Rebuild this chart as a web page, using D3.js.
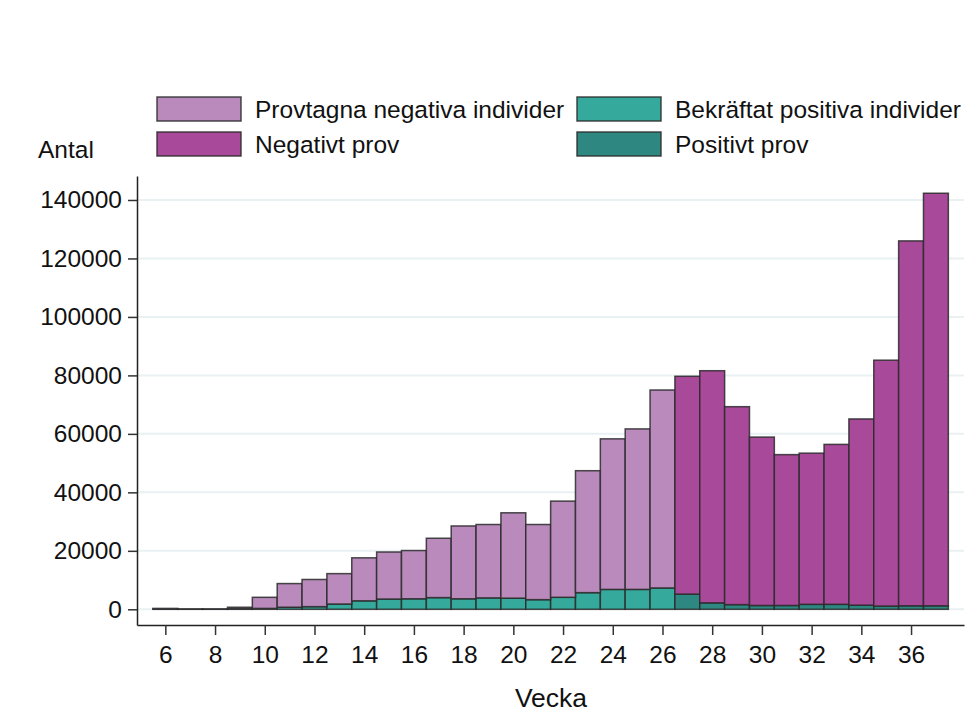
<!DOCTYPE html>
<html>
<head>
<meta charset="utf-8">
<script src="https://cdn.jsdelivr.net/npm/d3@7"></script>
<style>
  html, body { margin: 0; padding: 0; background: #ffffff; }
  svg { display: block; font-family: "Liberation Sans", Arial, sans-serif; }
</style>
</head>
<body>
<svg id="chart" width="976" height="720"></svg>
<script>
// ---- Data ----
const weeksIndivid = [6,7,8,9,10,11,12,13,14,15,16,17,18,19,20,21,22,23,24,25,26];
const negIndivid   = [200,50,50,500,3800,8100,9300,10400,14700,16100,16500,20300,24900,25100,29200,25700,32900,41700,51500,54900,67700];
const posIndivid   = [100,50,50,200,300,700,900,1800,2900,3500,3600,4000,3600,3900,3800,3300,4100,5700,6800,6800,7300];

const weeksProv = [27,28,29,30,31,32,33,34,35,36,37];
const negProv   = [74500,79400,67700,57600,51600,51700,54700,63700,84100,124800,141100];
const posProv   = [5200,2200,1600,1300,1300,1700,1700,1400,1100,1200,1200];

const xTicks = [6,8,10,12,14,16,18,20,22,24,26,28,30,32,34,36];
const yTicks = [0,20000,40000,60000,80000,100000,120000,140000];

const legendItems = [
  {label: "Provtagna negativa individer", key: "negInd"},
  {label: "Bekräftat positiva individer", key: "posInd"},
  {label: "Negativt prov", key: "negProv"},
  {label: "Positivt prov", key: "posProv"}
];
const colors = {
  negInd: "#b98abb",
  posInd: "#35a99b",
  negProv: "#a8499a",
  posProv: "#2f8782"
};

// ---- Layout ----
const svg = d3.select("#chart");
const plotLeft = 137, plotRight = 964, plotTop = 176, plotBottom = 625;
const fs = 24.5;

const x = d3.scaleLinear().domain([4.86, 38.13]).range([plotLeft, plotRight]);
const y = d3.scaleLinear().domain([-5370, 148200]).range([plotBottom, plotTop]);

// gridlines
svg.append("g")
  .selectAll("line")
  .data(yTicks)
  .join("line")
  .attr("x1", plotLeft).attr("x2", plotRight)
  .attr("y1", d => y(d)).attr("y2", d => y(d))
  .attr("stroke", "#e9f1f3")
  .attr("stroke-width", 2);

// bars
function drawBars(weeks, neg, pos, negKey, posKey) {
  const rows = weeks.map((w, i) => ({w, neg: neg[i], pos: pos[i]}));
  const g = svg.append("g");
  g.selectAll("rect.pos").data(rows).join("rect")
    .attr("class", "pos")
    .attr("x", d => x(d.w - 0.5))
    .attr("width", d => x(d.w + 0.5) - x(d.w - 0.5))
    .attr("y", d => y(d.pos))
    .attr("height", d => y(0) - y(d.pos))
    .attr("fill", colors[posKey])
    .attr("stroke", "#2a2a2a").attr("stroke-opacity", 0.85)
    .attr("stroke-width", 1.5);
  g.selectAll("rect.neg").data(rows).join("rect")
    .attr("class", "neg")
    .attr("x", d => x(d.w - 0.5))
    .attr("width", d => x(d.w + 0.5) - x(d.w - 0.5))
    .attr("y", d => y(d.pos + d.neg))
    .attr("height", d => y(d.pos) - y(d.pos + d.neg))
    .attr("fill", colors[negKey])
    .attr("stroke", "#2a2a2a").attr("stroke-opacity", 0.85)
    .attr("stroke-width", 1.5);
}
drawBars(weeksIndivid, negIndivid, posIndivid, "negInd", "posInd");
drawBars(weeksProv, negProv, posProv, "negProv", "posProv");

// axes
const xAxis = d3.axisBottom(x).tickValues(xTicks).tickSize(10).tickPadding(11).tickSizeOuter(0);
const gx = svg.append("g").attr("transform", `translate(0,${plotBottom})`).call(xAxis);
gx.select(".domain").attr("stroke", "#222").attr("stroke-width", 1.5);
gx.selectAll(".tick line").attr("stroke", "#333").attr("stroke-width", 1.5);
gx.selectAll(".tick text").attr("font-size", fs).attr("fill", "#111")
  .attr("font-family", "'Liberation Sans', Arial, sans-serif");

const yAxis = d3.axisLeft(y).tickValues(yTicks).tickSize(9).tickPadding(6).tickSizeOuter(0)
  .tickFormat(d3.format("d"));
const gy = svg.append("g").attr("transform", `translate(${plotLeft},0)`).call(yAxis);
gy.select(".domain").attr("stroke", "#222").attr("stroke-width", 1.5);
gy.selectAll(".tick line").attr("stroke", "#333").attr("stroke-width", 1.5);
gy.selectAll(".tick text").attr("font-size", fs).attr("fill", "#111")
  .attr("font-family", "'Liberation Sans', Arial, sans-serif");

// axis titles
svg.append("text").attr("x", 38).attr("y", 158)
  .attr("font-size", fs).attr("fill", "#111").text("Antal");
svg.append("text").attr("x", 551).attr("y", 707)
  .attr("text-anchor", "middle").attr("font-size", 26.5).attr("fill", "#111").text("Vecka");

// legend
const legPos = [
  {sx: 157, sy: 97, tx: 255},
  {sx: 577, sy: 97, tx: 675},
  {sx: 157, sy: 132, tx: 255},
  {sx: 577, sy: 132, tx: 675}
];
const lg = svg.append("g");
legendItems.forEach((it, i) => {
  const p = legPos[i];
  lg.append("rect").attr("x", p.sx).attr("y", p.sy).attr("width", 84).attr("height", 24)
    .attr("fill", colors[it.key]).attr("stroke", "#2a2a2a").attr("stroke-opacity", 0.85)
    .attr("stroke-width", 1.5);
  lg.append("text").attr("x", p.tx).attr("y", p.sy + 21)
    .attr("font-size", fs).attr("fill", "#111").text(it.label);
});
</script>
</body>
</html>
